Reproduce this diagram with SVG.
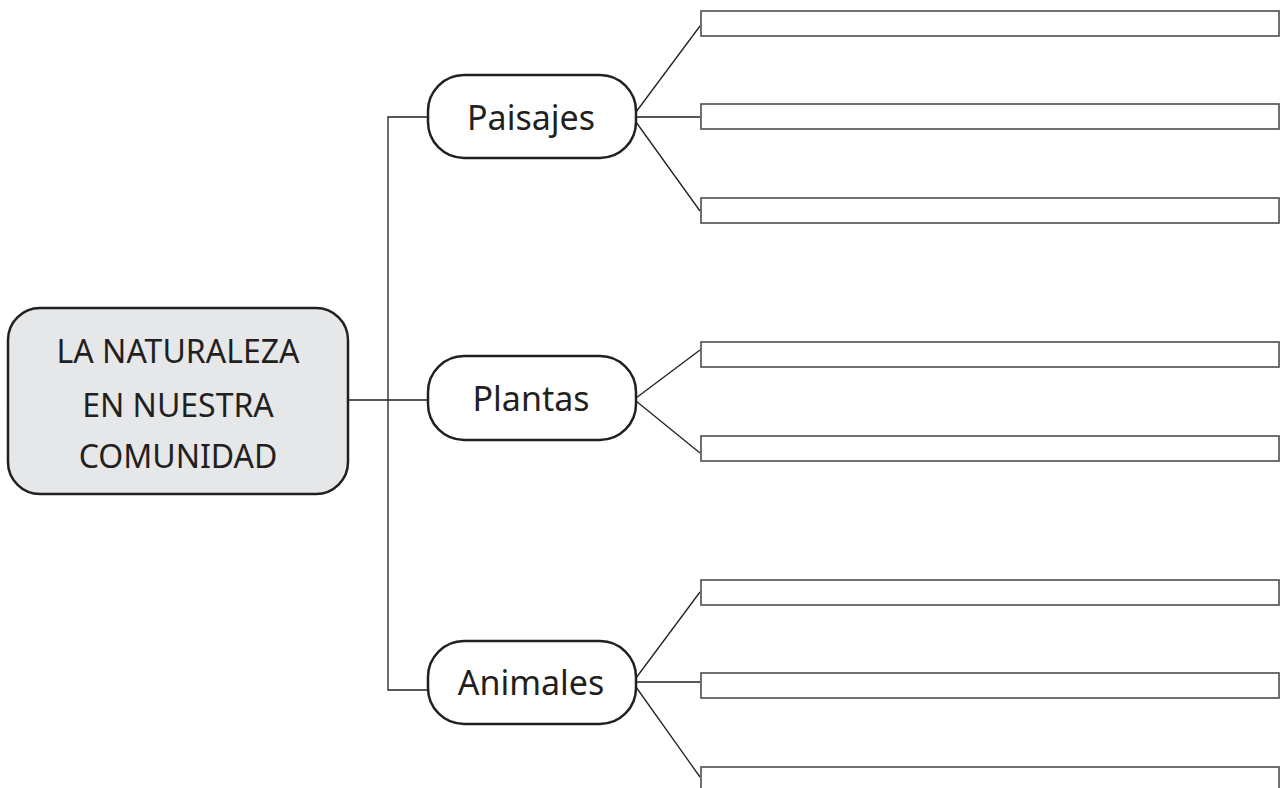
<svg xmlns="http://www.w3.org/2000/svg" width="1282" height="788" viewBox="0 0 1282 788">
<style>
.main{fill:#e6e7e8;stroke:#231f20;stroke-width:2.5}
.cat{fill:#fff;stroke:#231f20;stroke-width:2.5}
.slot{fill:#fff;stroke:#4d4d4d;stroke-width:1.6}
.conn{fill:none;stroke:#231f20;stroke-width:1.3}
text{font-family:"Noto Sans","Liberation Sans",sans-serif;fill:#231f20;text-anchor:middle}
.t1{font-size:32px}
.t2{font-size:34px}
</style>
<rect width="1282" height="788" fill="#fff"/>
<g id="connectors">
<polyline class="conn" points="428,117 388,117 388,690 428,690"/>
<line class="conn" x1="348" y1="400" x2="428" y2="400"/>
<line class="conn" x1="636" y1="112" x2="700" y2="26"/>
<line class="conn" x1="636" y1="117" x2="700" y2="117"/>
<line class="conn" x1="636" y1="122" x2="700" y2="211"/>
<line class="conn" x1="636" y1="398" x2="700" y2="350"/>
<line class="conn" x1="636" y1="401" x2="700" y2="453"/>
<line class="conn" x1="636" y1="678" x2="700" y2="592"/>
<line class="conn" x1="636" y1="682" x2="700" y2="682"/>
<line class="conn" x1="636" y1="687" x2="700" y2="777"/>
</g>
<g id="main">
<rect class="main" x="8" y="308" width="340" height="186" rx="32"/>
<text class="t1" x="178" y="363">LA NATURALEZA</text>
<text class="t1" x="178" y="417">EN NUESTRA</text>
<text class="t1" x="178" y="468">COMUNIDAD</text>
</g>
<g id="paisajes">
<rect class="cat" x="428" y="75" width="208" height="83" rx="36"/>
<text class="t2" x="531" y="130">Paisajes</text>
</g>
<g id="plantas">
<rect class="cat" x="428" y="356" width="208" height="84" rx="36"/>
<text class="t2" x="531" y="411">Plantas</text>
</g>
<g id="animales">
<rect class="cat" x="428" y="641" width="208" height="83" rx="36"/>
<text class="t2" x="531" y="695">Animales</text>
</g>
<g id="slots-paisajes">
<rect class="slot" x="701" y="11" width="578" height="25"/>
<rect class="slot" x="701" y="104" width="578" height="25"/>
<rect class="slot" x="701" y="198" width="578" height="25"/>
</g>
<g id="slots-plantas">
<rect class="slot" x="701" y="342" width="578" height="25"/>
<rect class="slot" x="701" y="436" width="578" height="25"/>
</g>
<g id="slots-animales">
<rect class="slot" x="701" y="580" width="578" height="25"/>
<rect class="slot" x="701" y="673" width="578" height="25"/>
<rect class="slot" x="701" y="767" width="578" height="25"/>
</g>
</svg>
